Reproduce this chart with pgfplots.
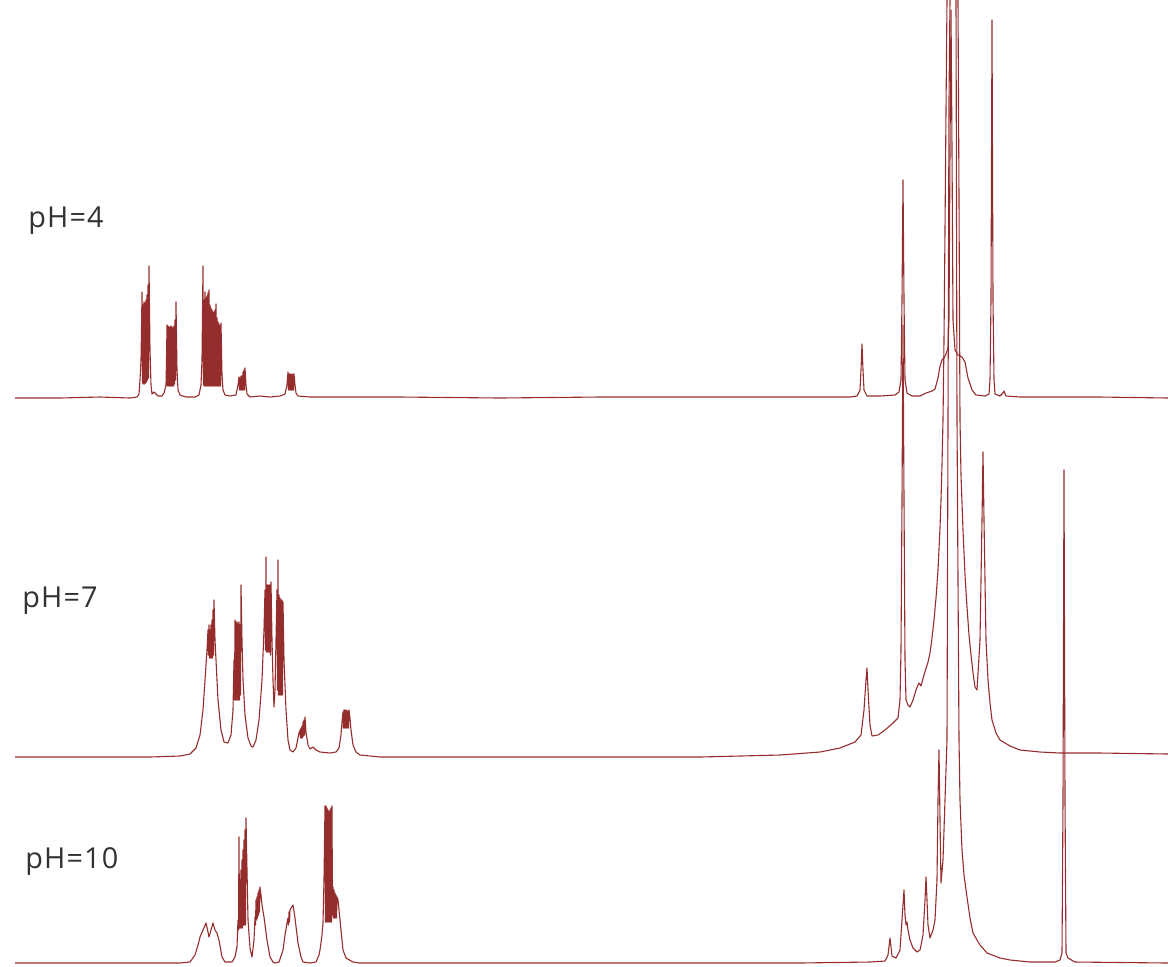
\documentclass[border=0pt]{standalone}
\usepackage{pgfplots}
\pgfplotsset{compat=1.18}
\usepackage{fontspec}
\newfontfamily\labfont[LetterSpace=4]{Open Sans}
\definecolor{spec}{RGB}{150,45,45}
\definecolor{lab}{RGB}{50,50,50}
\begin{document}
\begin{tikzpicture}
\begin{axis}[width=584pt, height=483pt, scale only axis,
  xmin=0, xmax=1168, ymin=0, ymax=966, y dir=reverse,
  hide axis, clip=true]
% pH = 4
\addplot[spec, line width=0.55pt, line join=round] coordinates {
(15,398) (60,398) (100,397) (130,398) (137,397) (139,394) (140,380) (141,360) (141.5,330) (142,292) (142.5,383) (143,305) (143.5,384) (144,302) (144.5,384) (145,303) (145.5,383) (146,300) (146.5,382) (147,295) (147.5,380) (148,285) (148.5,378) (149,266) (150,350) (151,385) (152,394) (154,392) (158,396) (162,396) (164,393) (166,385) (166.5,360) (167,325) (167.5,386) (168,326) (168.5,386) (169,327) (169.5,386) (170,327) (170.5,386) (171,326) (171.5,386) (172,327) (172.5,386) (173,328) (173.5,386) (174,326) (174.5,384) (175,320) (175.5,380) (176,302) (177,370) (178,390) (180,395) (186,397) (195,397) (199,395) (201,385) (202,360) (203,266) (203.5,385) (204,300) (204.5,386) (205,292) (205.5,386) (206,298) (206.5,386) (207,296) (207.5,386) (208,293) (208.5,386) (209,290) (209.5,386) (210,305) (210.5,386) (211,308) (211.5,386) (212,310) (212.5,386) (213,312) (213.5,386) (214,312) (214.5,386) (215,310) (215.5,386) (216,304) (216.5,386) (217,318) (217.5,386) (218,322) (218.5,386) (219,324) (219.5,386) (220,326) (220.5,386) (221,323) (222,375) (223,390) (225,395) (230,396) (236,395) (238,385) (239,377) (239.5,390) (240,378) (240.5,390) (241,376) (241.5,390) (242,376) (242.5,390) (243,372) (243.5,390) (244,370) (244.5,390) (245,368) (246,385) (247,394) (250,397) (260,396) (270,397) (280,396) (285,394) (287,385) (288,372) (288.5,390) (289,374) (289.5,390) (290,374) (290.5,390) (291,374) (291.5,390) (292,375) (292.5,390) (293,374) (293.5,390) (294,374) (295,385) (296,393) (298,396) (310,397) (400,397) (500,398) (600,397) (700,397) (800,397) (850,397) (857,396) (860,390) (861,370) (862,344) (863,370) (864,390) (867,396) (880,396) (895,395) (899,392) (901,380) (902,300) (903,180) (904,300) (905,380) (907,393) (912,396) (920,396) (926,393) (932,391) (935,389) (938,378) (940,366) (942,360) (944,358) (946,354) (948,348) (949,320) (950,150) (951,10) (952,150) (953,320) (955,350) (958,355) (962,357) (965,362) (968,378) (972,390) (976,395) (985,396) (989,394) (990,380) (991,300) (992,20) (993,300) (994,380) (995,394) (1000,396) (1003,393) (1004,391) (1006,396) (1020,397) (1100,397) (1168,398)
};
% pH = 7
\addplot[spec, line width=0.55pt, line join=round] coordinates {
(15,757) (100,757) (150,757) (180,756) (190,754) (196,748) (200,735) (203,710) (205,680) (207,650) (208,630) (208.5,655) (209,625) (209.5,658) (210,630) (210.5,658) (211,625) (211.5,658) (212,620) (212.5,658) (213,610) (213.5,655) (214,600) (215,640) (216,660) (218,700) (221,730) (224,742) (228,743) (231,735) (233,710) (234,660) (234.5,700) (235,620) (235.5,700) (236,622) (236.5,700) (237,622) (237.5,700) (238,624) (238.5,700) (239,622) (239.5,700) (240,625) (240.5,695) (241,585) (242,640) (243,680) (245,715) (248,738) (251,746) (253,747) (256,740) (259,720) (262,680) (264,630) (265,590) (265.5,650) (266,557) (266.5,652) (267,585) (267.5,652) (268,585) (268.5,652) (269,585) (269.5,652) (270,585) (270.5,655) (271,582) (272,640) (273,680) (274,707) (275,690) (276,640) (277,590) (277.5,690) (278,560) (278.5,695) (279,595) (279.5,695) (280,598) (280.5,695) (281,600) (281.5,695) (282,600) (282.5,695) (283,602) (284,660) (286,710) (288,740) (290,750) (293,752) (296,748) (298,738) (299,733) (300,730) (300.5,738) (301,728) (301.5,738) (302,726) (302.5,738) (303,722) (303.5,736) (304,720) (304.5,735) (305,717) (306,732) (308,745) (310,749) (313,747) (316,750) (320,752) (330,753) (336,752) (339,748) (341,735) (342,722) (343,712) (343.5,728) (344,710) (344.5,728) (345,710) (345.5,728) (346,710) (346.5,728) (347,711) (347.5,728) (348,711) (348.5,728) (349,710) (350,718) (351,730) (353,745) (356,752) (360,755) (380,757) (500,757) (600,757) (700,757) (780,755) (820,752) (840,748) (855,742) (861,735) (864,710) (866,680) (867,668) (868,690) (870,725) (872,736) (878,735) (885,730) (893,723) (898,718) (900,700) (901,650) (902,500) (903,325) (904,500) (905,660) (906,700) (908,705) (910,707) (913,700) (916,690) (918,685) (919,683) (921,686) (924,675) (928,662) (930,653) (932,638) (934,620) (936,598) (938,570) (940,528) (941,500) (942,465) (943,420) (944,340) (945,230) (946,110) (947,0) (951,-200) (958,0) (959,200) (960,420) (961,475) (963,530) (965,575) (967,607) (969,635) (971,655) (973,673) (975,687) (977,690) (980,640) (982,520) (983,452) (984,520) (986,640) (988,680) (990,703) (992,720) (996,733) (1000,740) (1010,746) (1020,750) (1040,752) (1060,753) (1100,753) (1168,754)
};
% pH = 10
\addplot[spec, line width=0.55pt, line join=round] coordinates {
(15,963) (100,963) (180,963) (190,962) (195,955) (198,945) (200,937) (203,930) (206,923) (208,932) (209,937) (211,930) (213,923) (215,930) (217,933) (219,940) (222,957) (225,962) (232,962) (235,957) (237,947) (238,920) (238.5,930) (239,837) (239.5,928) (240,880) (240.5,928) (241,870) (241.5,928) (242,860) (242.5,928) (243,850) (243.5,925) (244,840) (244.5,925) (245,830) (245.5,925) (246,818) (247,870) (248,920) (250,948) (252,957) (254,940) (255,917) (255.5,925) (256,900) (256.5,920) (257,897) (257.5,918) (258,893) (258.5,915) (259,890) (259.5,912) (260,887) (261,895) (262,905) (264,917) (267,940) (270,957) (273,962) (275,963) (279,962) (283,950) (285,935) (287,923) (288,918) (288.5,925) (289,912) (289.5,922) (290,910) (291,908) (293,905) (295,918) (298,943) (301,957) (303,962) (310,963) (316,962) (319,955) (320,950) (322,935) (323,923) (324,880) (325,806) (325.5,922) (326,806) (326.5,922) (327,808) (327.5,922) (328,810) (328.5,922) (329,812) (329.5,922) (330,810) (330.5,922) (331,808) (331.5,922) (332,806) (332.5,915) (333,887) (333.5,918) (334,890) (334.5,918) (335,893) (335.5,918) (336,895) (336.5,918) (337,897) (338,900) (340,920) (342,940) (343,950) (346,958) (353,962) (360,963) (600,963) (800,963) (870,962) (885,961) (888,955) (890,938) (892,956) (896,958) (900,950) (902,920) (904,890) (905,915) (906,925) (907,922) (908,930) (910,940) (913,948) (917,952) (920,950) (923,935) (925,900) (926,877) (927,900) (928,925) (930,938) (933,930) (935,920) (937,880) (938,800) (939,750) (940,820) (941,883) (943,860) (945,800) (946,770) (947,740) (948,420) (949,100) (950,0) (953,-100) (956,0) (957,420) (959,740) (960,800) (962,850) (964,875) (967,897) (970,918) (973,933) (977,940) (980,945) (987,953) (1000,958) (1010,960) (1030,962) (1055,962) (1060,960) (1062,953) (1063,800) (1064,470) (1065,800) (1066,953) (1068,958) (1075,962) (1168,963)
};
\node[anchor=base west, font=\labfont\fontsize{14.4pt}{17pt}\selectfont, text=lab, inner sep=0pt] at (axis cs:28,227) {pH=4};
\node[anchor=base west, font=\labfont\fontsize{14.4pt}{17pt}\selectfont, text=lab, inner sep=0pt] at (axis cs:22,607) {pH=7};
\node[anchor=base west, font=\labfont\fontsize{14.4pt}{17pt}\selectfont, text=lab, inner sep=0pt] at (axis cs:25,868) {pH=10};
\end{axis}
\path (current axis.south west) rectangle (current axis.north east);
\end{tikzpicture}
\end{document}
